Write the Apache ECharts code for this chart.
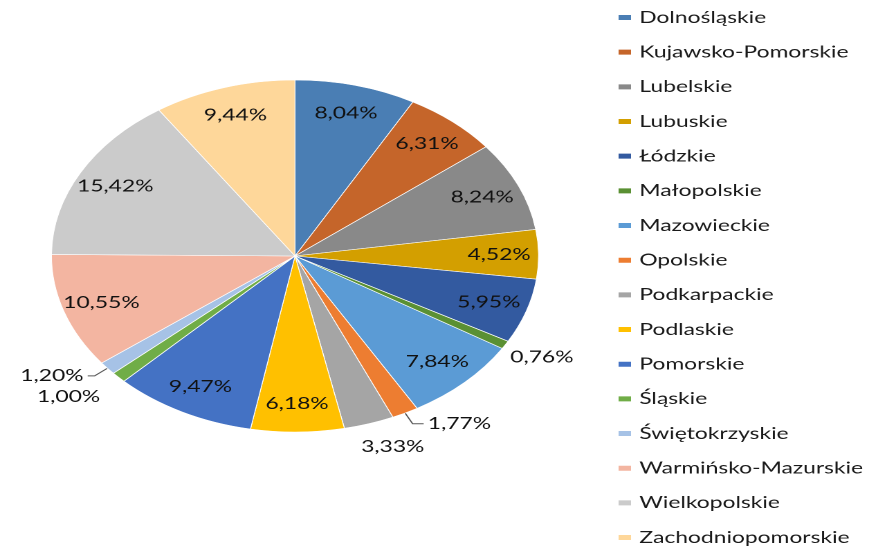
<!DOCTYPE html>
<html>
<head>
<meta charset="utf-8">
<script src="https://cdn.jsdelivr.net/npm/echarts@6/dist/echarts.min.js"></script>
<style>
html,body{margin:0;padding:0;background:#fff;}
#wrap{width:869px;height:547px;overflow:hidden;position:relative;}
#c{width:628px;height:547px;transform:scaleX(1.3838);transform-origin:0 0;}
</style>
</head>
<body>
<div id="wrap"><div id="c"></div></div>
<script>
const categories = ['Dolnośląskie','Kujawsko-Pomorskie','Lubelskie','Lubuskie','Łódzkie','Małopolskie','Mazowieckie','Opolskie','Podkarpackie','Podlaskie','Pomorskie','Śląskie','Świętokrzyskie','Warmińsko-Mazurskie','Wielkopolskie','Zachodniopomorskie'];
const values = [8.04, 6.31, 8.24, 4.52, 5.95, 0.76, 7.84, 1.77, 3.33, 6.18, 9.47, 1.00, 1.20, 10.55, 15.42, 9.44];

const palette = ['#4A7EB4','#C5652A','#898989','#D39F00','#335AA0','#5A9033','#5B9BD5','#ED7D31','#A5A5A5','#FFC000','#4472C4','#70AD47','#A6C2E6','#F3B5A1','#CBCBCB','#FED79A'];

// label placement for the small slices (style only)
const outsideLabels = {
  'Małopolskie':    {line:false, length:24, length2:-20},
  'Opolskie':       {line:true,  length:12, length2:8},
  'Podkarpackie':   {line:false, length:24, length2:-16},
  'Śląskie':        {line:false, length:28, length2:-10},
  'Świętokrzyskie': {line:true,  length:12, length2:5}
};

const FONT = 'Lato';
const center = [213.2, 256];
const R = 176;

const fmt = p => p.value.toFixed(2).replace('.', ',') + '%';

const chart = echarts.init(document.getElementById('c'), null, {devicePixelRatio: 2});
chart.setOption({
  animation: false,
  color: palette,
  legend: {
    orient: 'vertical',
    left: 445,
    top: 9,
    height: 600,
    padding: 0,
    itemWidth: 11,
    itemHeight: 7,
    itemGap: 17.67,
    icon: 'rect',
    textStyle: {fontFamily: FONT, fontSize: 16.5, color: '#1a1a1a', lineHeight: 16},
    data: categories
  },
  series: [
    {
      type: 'pie',
      center: center,
      radius: [0, R],
      startAngle: 90,
      silent: true,
      label: {show: false},
      labelLine: {show: false},
      itemStyle: {borderColor: '#ffffff', borderWidth: 0.6},
      data: categories.map((n, i) => ({name: n, value: values[i]}))
    },
    {
      type: 'pie',
      center: center,
      radius: [113, R],
      startAngle: 90,
      silent: true,
      avoidLabelOverlap: false,
      labelLayout: {hideOverlap: false},
      itemStyle: {color: 'rgba(0,0,0,0)', borderWidth: 0},
      label: {show: true, position: 'inside', formatter: fmt, fontFamily: FONT, fontSize: 16.5, color: '#111'},
      labelLine: {show: false},
      emphasis: {disabled: true},
      data: categories.map((n, i) => {
        const item = {name: n, value: values[i]};
        const o = outsideLabels[n];
        if (o) {
          item.label = {position: 'outside', distanceToLabelLine: 3};
          item.labelLine = {show: o.line, length: o.length, length2: o.length2, lineStyle: {color: '#595959', width: 1}};
        }
        return item;
      })
    }
  ]
});
</script>
</body>
</html>
